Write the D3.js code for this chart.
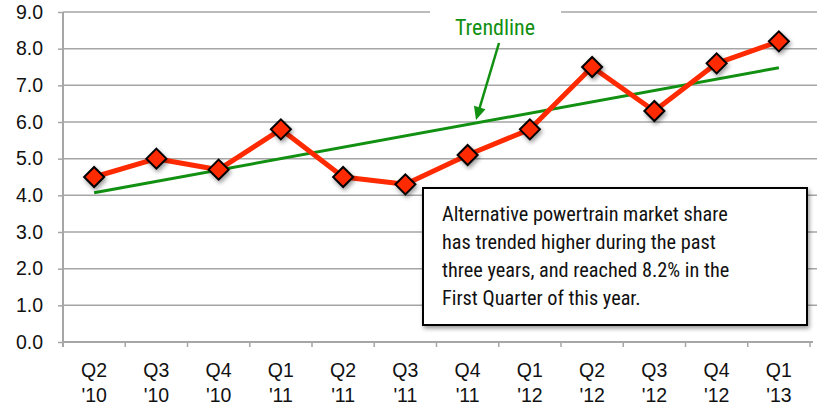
<!DOCTYPE html>
<html>
<head>
<meta charset="utf-8">
<script src="https://cdn.jsdelivr.net/npm/d3@7"></script>
<style>
  body { margin: 0; background: #fff; }
  svg { display: block; }
</style>
</head>
<body>
<div id="chart"></div>
<script>
// quarters and share values (%)
const quarters = ["Q2", "Q3", "Q4", "Q1", "Q2", "Q3", "Q4", "Q1", "Q2", "Q3", "Q4", "Q1"];
const years = ["'10", "'10", "'10", "'11", "'11", "'11", "'11", "'12", "'12", "'12", "'12", "'13"];
const share = [4.5, 5.0, 4.7, 5.8, 4.5, 4.3, 5.1, 5.8, 7.5, 6.3, 7.6, 8.2];
// trendline end values (first and last quarter)
const trendEnds = [4.07, 7.48];
const yTicks = [0, 1, 2, 3, 4, 5, 6, 7, 8, 9];
const noteLines = [
  "Alternative powertrain market share",
  "has trended higher during the past",
  "three years, and reached 8.2% in the",
  "First Quarter of this year."
];

const width = 817, height = 408;
const margin = { top: 12, right: 7, bottom: 66, left: 63 };
const innerW = width - margin.left - margin.right;
const innerH = height - margin.top - margin.bottom;

const red = "#ff2a00", green = "#119011";
const narrow = "'Roboto Condensed', 'DejaVu Sans Condensed', sans-serif";
const axisFont = "'Liberation Sans', Arial, sans-serif";

const svg = d3.select("#chart").append("svg")
  .attr("width", width)
  .attr("height", height);

const defs = svg.append("defs");
const shadow = defs.append("filter").attr("id", "shadow")
  .attr("x", "-30%").attr("y", "-30%").attr("width", "160%").attr("height", "160%");
shadow.append("feDropShadow")
  .attr("dx", 1.5).attr("dy", 2.5).attr("stdDeviation", 2)
  .attr("flood-color", "#000").attr("flood-opacity", 0.4);

const g = svg.append("g")
  .attr("transform", `translate(${margin.left},${margin.top})`);

const idx = d3.range(share.length);

const x = d3.scaleBand()
  .domain(idx)
  .range([0, innerW]);

const y = d3.scaleLinear()
  .domain([0, 9])
  .range([innerH, 0]);

const cx = i => x(i) + x.bandwidth() / 2;

// grid lines
g.append("g")
  .selectAll("line")
  .data(yTicks.filter(d => d > 0))
  .join("line")
  .attr("x1", 0)
  .attr("x2", width - margin.left)
  .attr("y1", d => y(d))
  .attr("y2", d => y(d))
  .attr("stroke", "#a6a6a6")
  .attr("stroke-width", 1.5);

// y axis
const yAxis = g.append("g")
  .call(d3.axisLeft(y).tickValues(yTicks).tickFormat(d3.format(".1f")).tickSize(5).tickPadding(15));
yAxis.attr("font-family", axisFont).attr("font-size", 19.5);
yAxis.select(".domain").attr("stroke", "#a6a6a6").attr("stroke-width", 2)
  .attr("d", `M0,${innerH + 5}V0`);
yAxis.selectAll(".tick line").attr("stroke", "#a6a6a6").attr("stroke-width", 1.5);
yAxis.selectAll(".tick text").attr("fill", "#111");

// x axis
const xAxis = g.append("g")
  .attr("transform", `translate(0,${innerH})`);
xAxis.append("line")
  .attr("x1", 0).attr("x2", innerW + 3)
  .attr("stroke", "#a6a6a6").attr("stroke-width", 2);
xAxis.selectAll("line.tk")
  .data(d3.range(share.length + 1))
  .join("line")
  .attr("class", "tk")
  .attr("x1", i => i < share.length ? x(i) : x(i - 1) + x.bandwidth())
  .attr("x2", i => i < share.length ? x(i) : x(i - 1) + x.bandwidth())
  .attr("y1", 0).attr("y2", 5)
  .attr("stroke", "#a6a6a6").attr("stroke-width", 1.5);
const xl = xAxis.selectAll("text.xl")
  .data(idx)
  .join("text")
  .attr("class", "xl")
  .attr("x", cx)
  .attr("text-anchor", "middle")
  .attr("font-family", axisFont)
  .attr("font-size", 19.5)
  .attr("fill", "#111");
xl.append("tspan").attr("x", cx).attr("y", 35).text(i => quarters[i]);
xl.append("tspan").attr("x", cx).attr("y", 60).text(i => years[i]);

// label gap in top grid line
g.append("rect")
  .attr("x", 367).attr("y", -4)
  .attr("width", 131).attr("height", 10)
  .attr("fill", "#fff");

// trendline
g.append("line")
  .attr("x1", cx(0)).attr("y1", y(trendEnds[0]))
  .attr("x2", cx(share.length - 1)).attr("y2", y(trendEnds[1]))
  .attr("stroke", green).attr("stroke-width", 3);

// data line
g.append("path")
  .datum(idx)
  .attr("fill", "none")
  .attr("stroke", red)
  .attr("stroke-width", 5)
  .attr("stroke-linejoin", "round")
  .attr("d", d3.line().x(cx).y(i => y(share[i])));

// markers
g.selectAll("path.mk")
  .data(idx)
  .join("path")
  .attr("class", "mk")
  .attr("d", "M0,-10L10,0L0,10L-10,0Z")
  .attr("transform", i => `translate(${cx(i)},${y(share[i])})`)
  .attr("fill", red)
  .attr("stroke", "#000")
  .attr("stroke-width", 2)
  .attr("filter", "url(#shadow)");

// trendline label and arrow
g.append("text")
  .attr("x", 432).attr("y", 23)
  .attr("text-anchor", "middle")
  .attr("font-family", narrow)
  .attr("font-size", 22)
  .attr("fill", green)
  .text("Trendline");

const ax1 = 436, ay1 = 31, ax2 = 413, ay2 = 108;
const ang = Math.atan2(ay2 - ay1, ax2 - ax1);
g.append("line")
  .attr("x1", ax1).attr("y1", ay1)
  .attr("x2", ax2 - 9 * Math.cos(ang)).attr("y2", ay2 - 9 * Math.sin(ang))
  .attr("stroke", green).attr("stroke-width", 2.5);
g.append("path")
  .attr("d", "M0,0L-13,-6L-13,6Z")
  .attr("transform", `translate(${ax2},${ay2}) rotate(${ang * 180 / Math.PI})`)
  .attr("fill", green);

// note box
const box = svg.append("g").attr("transform", "translate(423,188)");
box.append("rect")
  .attr("width", 384).attr("height", 137)
  .attr("fill", "#fff")
  .attr("stroke", "#000")
  .attr("stroke-width", 2)
  .attr("filter", "url(#shadow)");
box.selectAll("text")
  .data(noteLines)
  .join("text")
  .attr("x", 19)
  .attr("y", (d, i) => 33 + i * 28)
  .attr("font-family", narrow)
  .attr("font-size", 20.3)
  .attr("fill", "#111")
  .text(d => d);
</script>
</body>
</html>
